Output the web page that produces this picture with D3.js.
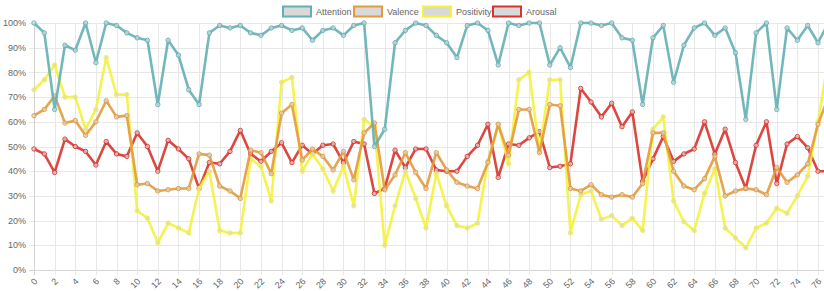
<!DOCTYPE html>
<html>
<head>
<meta charset="utf-8">
<script src="https://cdn.jsdelivr.net/npm/d3@7"></script>
<style>
  html, body { margin: 0; padding: 0; background: #fff; overflow: hidden; }
  svg { display: block; overflow: hidden; }
  text { font-family: "Liberation Sans", Arial, Helvetica, sans-serif; fill: #666; }
</style>
</head>
<body>
<svg id="chart" width="824" height="291"></svg>
<script>
// series names and colours
var seriesNames = ["Attention", "Valence", "Positivity", "Arousal"];
var seriesColors = ["#63b0b4", "#e39a3c", "#f4f23c", "#d8332c"];

// y ticks
var yTicks = [0, 10, 20, 30, 40, 50, 60, 70, 80, 90, 100];

// values per frame (index 0..77, the last one is cut by the right edge)
var attention = [100, 96, 65, 91, 89, 100, 84, 100, 99, 96, 94, 93, 67, 93, 87, 73, 67, 96, 99, 98,
  99, 96, 95, 98, 99, 97, 98, 93, 97, 98, 95, 99, 100, 50, 57, 92, 97, 100, 99, 95,
  92, 86, 99, 100, 97, 83, 100, 99, 100, 100, 83, 90, 82, 100, 100, 99, 100, 94, 93, 67,
  94, 99, 76, 91, 98, 100, 95, 98, 88, 61, 96, 100, 65, 98, 93, 99, 92, 100];

var valence = [62.5, 65, 70.5, 59.5, 60.5, 54.5, 60, 68.5, 62, 62.5, 34.5, 35, 32, 32.5, 33, 33, 47, 46.5, 34, 32,
  29, 48.5, 47.5, 39, 63.5, 67, 44.5, 49, 46, 40.5, 48, 36.5, 55.5, 59.5, 32.5, 38.5, 47.5, 39.5, 33, 47.5,
  40.5, 35.5, 34, 33, 43.5, 59, 46.5, 65, 65, 47.5, 67, 66.5, 33, 32, 34.5, 30.5, 29.5, 30.5, 29.5, 35,
  55.5, 55.5, 40, 34, 32.5, 37, 46, 30, 32, 33, 32.5, 30.5, 41.5, 35.5, 38.5, 43, 59, 70];

var positivity = [73, 77, 83, 70, 70, 57, 65, 86, 71, 71, 24, 21, 11, 19, 17, 15, 33, 40, 16, 15,
  15, 45, 42, 28, 76, 78, 40, 47, 41, 32, 42, 26, 61, 58, 10, 26, 40, 29, 17, 39,
  26, 18, 17, 19, 44, 59, 43, 77, 80, 48, 77, 77, 15, 30.5, 32, 20.5, 22, 18, 21, 16,
  57, 62, 28, 19.5, 16, 31, 41, 17, 13, 9, 17, 19, 25, 23, 30, 38, 60, 85];

var arousal = [49, 47, 39.5, 53, 50, 48, 42.5, 52, 47, 46, 55.5, 50, 40, 52.5, 49, 45, 33, 43.5, 43, 48,
  56.5, 47, 44, 48, 51.5, 43.5, 50.5, 47, 50.5, 51, 43.5, 52, 51, 31, 33, 48.5, 41.5, 49, 49, 40.5,
  40, 40, 46, 50.5, 59, 37.5, 51, 50.5, 53.5, 56, 41.5, 42, 43, 73.5, 68, 62, 67.5, 58, 64, 36,
  45, 54, 44, 47, 49, 60, 47, 57, 43.5, 33, 50.5, 60, 35, 51, 54, 49.5, 40, 40];

var allSeries = [attention, valence, positivity, arousal];

var svg = d3.select("#chart");
var W = 824, H = 291;
var plotLeft = 34, plotRight = 818, plotTop = 23, plotBottom = 270;

var x = d3.scaleLinear().domain([0, 76]).range([plotLeft, plotRight]);
var y = d3.scaleLinear().domain([0, 100]).range([plotBottom, plotTop]);

var xTickVals = d3.range(0, 79, 2);

// grid
var grid = svg.append("g").attr("class", "grid");
grid.selectAll(".hgrid")
  .data(yTicks)
  .enter().append("line")
  .attr("x1", plotLeft - 5).attr("x2", W)
  .attr("y1", function(d) { return Math.round(y(d)) + 0.5; })
  .attr("y2", function(d) { return Math.round(y(d)) + 0.5; })
  .attr("stroke", function(d) { return d === 0 ? "#d4d4d4" : "#e8e8e8"; })
  .attr("stroke-width", 1);

grid.selectAll(".vgrid")
  .data(xTickVals)
  .enter().append("line")
  .attr("x1", function(d) { return Math.round(x(d)) + 0.5; })
  .attr("x2", function(d) { return Math.round(x(d)) + 0.5; })
  .attr("y1", plotTop).attr("y2", plotBottom + 5)
  .attr("stroke", function(d) { return d === 0 ? "#d4d4d4" : "#e8e8e8"; })
  .attr("stroke-width", 1);

// y labels
svg.append("g").selectAll("text")
  .data(yTicks)
  .enter().append("text")
  .attr("x", plotLeft - 8)
  .attr("y", function(d) { return y(d); })
  .attr("dy", "0.35em")
  .attr("text-anchor", "end")
  .attr("font-size", "9px")
  .text(function(d) { return d + "%"; });

// x labels, rotated
svg.append("g").selectAll("text")
  .data(xTickVals)
  .enter().append("text")
  .attr("transform", function(d) { return "translate(" + (x(d) + 4) + "," + (plotBottom + 12) + ") rotate(-45)"; })
  .attr("text-anchor", "end")
  .attr("font-size", "9px")
  .text(function(d) { return d; });

// lines, first dataset drawn last so it stays on top
var line = d3.line()
  .x(function(d, i) { return x(i); })
  .y(function(d) { return y(d); });

var order = [3, 2, 1, 0];
order.forEach(function(k) {
  var g = svg.append("g").attr("class", "series");
  g.append("path")
    .datum(allSeries[k])
    .attr("d", line)
    .attr("fill", "none")
    .attr("stroke", seriesColors[k])
    .attr("stroke-width", 2.6)
    .attr("stroke-linejoin", "round")
    .attr("opacity", 0.9);
  g.selectAll("circle")
    .data(allSeries[k])
    .enter().append("circle")
    .attr("cx", function(d, i) { return x(i); })
    .attr("cy", function(d) { return y(d); })
    .attr("r", 2.2)
    .attr("fill", "rgba(215,215,215,0.8)")
    .attr("stroke", seriesColors[k])
    .attr("stroke-width", 1)
    .attr("opacity", 0.9);
});

// legend
var legendX = [283, 354, 423, 493];
var legend = svg.append("g").attr("class", "legend");
seriesNames.forEach(function(name, k) {
  legend.append("rect")
    .attr("x", legendX[k]).attr("y", 6.5)
    .attr("width", 28).attr("height", 10)
    .attr("fill", "#d9d9d9")
    .attr("stroke", seriesColors[k])
    .attr("stroke-width", 2);
  legend.append("text")
    .attr("x", legendX[k] + 33).attr("y", 11.5)
    .attr("dy", "0.35em")
    .attr("font-size", "9px")
    .text(name);
});
</script>
</body>
</html>
